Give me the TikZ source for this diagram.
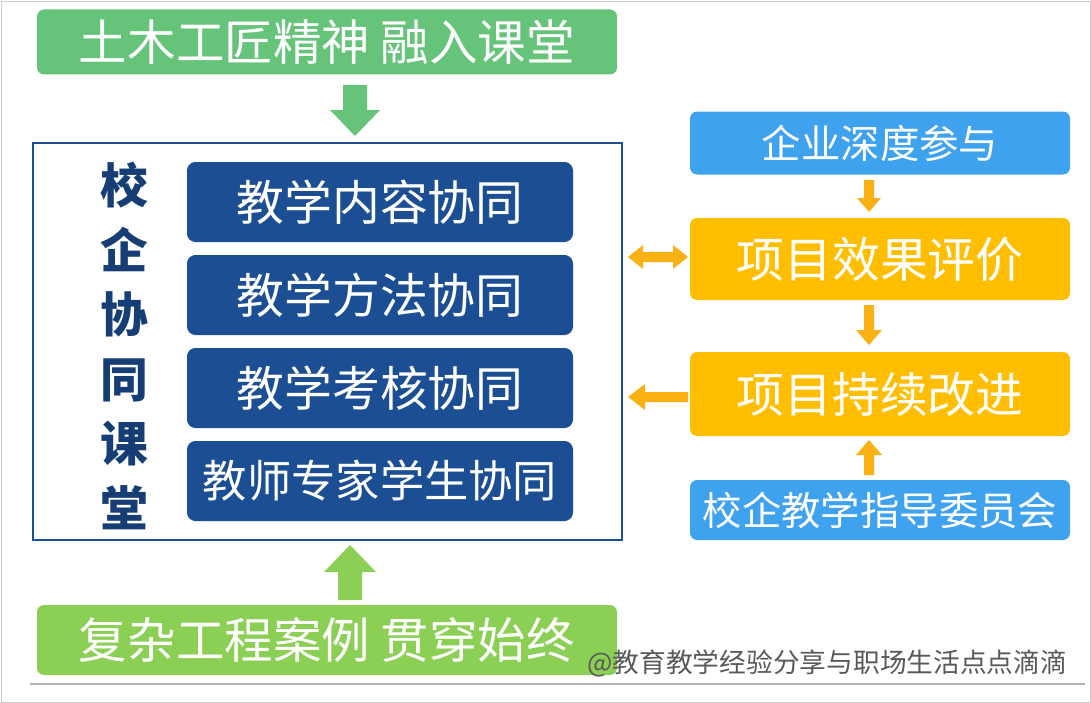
\documentclass[tikz,border=0pt]{standalone}
\usepackage{fontspec}
\newfontfamily\cjk{Noto Sans CJK SC}
\begin{document}
\begin{tikzpicture}[x=0.025cm,y=-0.025cm,
  gbox/.style={rounded corners=5pt,inner sep=0pt,text=white,font=\cjk\fontsize{34.5}{34.5}\selectfont},
  nbox/.style={fill=navy,rounded corners=6pt,inner sep=0pt,text=white,font=\cjk\fontsize{34}{34}\selectfont},
  ybox/.style={fill=gold,rounded corners=5pt,inner sep=0pt,text=white,font=\cjk\fontsize{34}{34}\selectfont},
  bbox/.style={fill=sky,rounded corners=5pt,inner sep=0pt,text=white,font=\cjk\fontsize{28}{28}\selectfont},
]
\definecolor{navy}{HTML}{1B4E92}
\definecolor{gold}{HTML}{FFBF00}
\definecolor{sky}{HTML}{3EA2EE}
\definecolor{g1}{HTML}{66C47A}
\definecolor{g2}{HTML}{8CCF55}
\definecolor{ora}{HTML}{F9B113}
\useasboundingbox (0,0) rectangle (1091,703);
\draw[gray!40] (1,1) rectangle (1090,702);
\draw[gray!60,line width=1pt] (30,684) -- (1085,684);
% top
\node[gbox,fill=g1,minimum width=580*0.025cm,minimum height=65*0.025cm] (top) at (327,42) {土木工匠精神 融入课堂};
\fill[g1] (343,85) -- (367,85) -- (367,110) -- (380,110) -- (355,136) -- (330,110) -- (343,110) -- cycle;
% main box
\draw[navy,line width=1.8pt,fill=white] (33,143) rectangle (622,540);
\node[font=\cjk\bfseries\fontsize{34}{34}\selectfont,text=navy!80!black,align=center] (vt) at (124,346) {校\\[0.35em]企\\[0.35em]协\\[0.35em]同\\[0.35em]课\\[0.35em]堂};
\node[nbox,minimum width=386*0.025cm,minimum height=80*0.025cm] (n1) at (380,202) {教学内容协同};
\node[nbox,minimum width=386*0.025cm,minimum height=80*0.025cm] (n2) at (380,295) {教学方法协同};
\node[nbox,minimum width=386*0.025cm,minimum height=80*0.025cm] (n3) at (380,388) {教学考核协同};
\node[nbox,minimum width=386*0.025cm,minimum height=80*0.025cm,font=\cjk\fontsize{31.5}{31.5}\selectfont] (n4) at (380,481) {教师专家学生协同};
% bottom
\fill[g2] (338,600) -- (362,600) -- (362,572) -- (376,572) -- (350,545) -- (324,572) -- (338,572) -- cycle;
\node[gbox,fill=g2,minimum width=580*0.025cm,minimum height=70*0.025cm] (bot) at (327,640) {复杂工程案例 贯穿始终};
% right
\node[bbox,minimum width=380*0.025cm,minimum height=63*0.025cm] (r1) at (880,143) {企业深度参与};
\node[ybox,minimum width=380*0.025cm,minimum height=82*0.025cm] (r2) at (880,259) {项目效果评价};
\node[ybox,minimum width=380*0.025cm,minimum height=84*0.025cm] (r3) at (880,394) {项目持续改进};
\node[bbox,minimum width=380*0.025cm,minimum height=60*0.025cm] (r4) at (880,510) {校企教学指导委员会};
\fill[ora] (864,180) -- (874,180) -- (874,198) -- (881,198) -- (869,212) -- (857,198) -- (864,198) -- cycle;
\fill[ora] (864,305) -- (874,305) -- (874,330) -- (882,330) -- (869,345) -- (856,330) -- (864,330) -- cycle;
\fill[ora] (864,475) -- (874,475) -- (874,455) -- (882,455) -- (869,440) -- (856,455) -- (864,455) -- cycle;
\fill[ora] (628,257) -- (643,245) -- (643,252) -- (673,252) -- (673,245) -- (688,257) -- (673,269) -- (673,262) -- (643,262) -- (643,269) -- cycle;
\fill[ora] (628,397) -- (645,384) -- (645,392) -- (688,392) -- (688,402) -- (645,402) -- (645,410) -- cycle;
\node[font=\cjk\fontsize{19}{19}\selectfont,text=gray!70!black,anchor=east] (wm) at (1072,663) {@教育教学经验分享与职场生活点点滴滴};
\end{tikzpicture}
\end{document}
